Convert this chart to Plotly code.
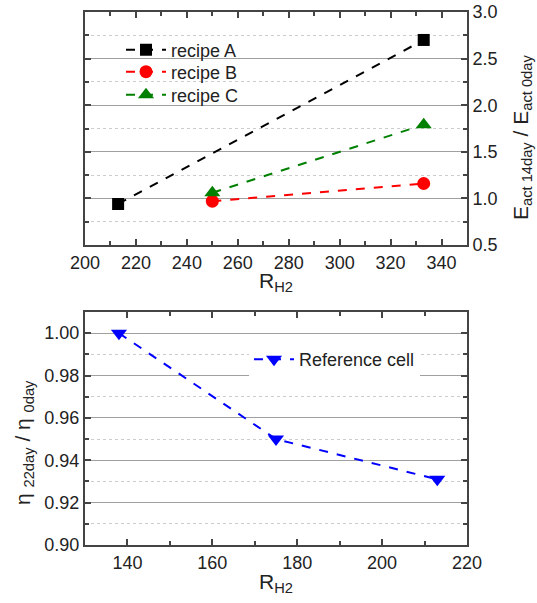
import plotly.graph_objects as go

# ---- data ----
recipes = ["recipe A", "recipe B", "recipe C"]
r_a = [213, 333]
e_a = [0.94, 2.70]
r_b = [250, 333]
e_b = [0.97, 1.16]
r_c = [250, 333]
e_c = [1.06, 1.79]

ref_name = "Reference cell"
r_ref = [138, 175, 213]
eta_ref = [1.000, 0.950, 0.931]

FONT = "Liberation Sans, Arial, sans-serif"
W, H = 537, 603

fig = go.Figure()

def add(x, y, name, color, symbol, size, xa, ya, legend):
    fig.add_trace(go.Scatter(
        x=x, y=y, name=name, mode="lines+markers",
        line=dict(color=color, width=2, dash="dash"),
        marker=dict(color=color, symbol=symbol, size=size),
        xaxis=xa, yaxis=ya, legend=legend))

add(r_a, e_a, recipes[0], "#000000", "square", 12, "x", "y", "legend")
add(r_b, e_b, recipes[1], "#ff0000", "circle", 13, "x", "y", "legend3")
add(r_c, e_c, recipes[2], "#008000", "triangle-up", 14, "x", "y", "legend4")
add(r_ref, eta_ref, ref_name, "#0000ff", "triangle-down", 14, "x2", "y2", "legend2")

x0, x1 = 85 / W, 467 / W
top_dom = [1 - 245 / H, 1 - 12 / H]
bot_dom = [1 - 545 / H, 1 - 312 / H]

axis_common = dict(
    showline=True, linecolor="#444444", linewidth=2, mirror="ticks",
    ticks="inside", ticklen=6, tickcolor="#444444", tickwidth=1.5,
    tickfont=dict(family=FONT, size=18, color="#222222"),
    zeroline=False,
)

leg_font = dict(family=FONT, size=18, color="#222222")

def top_leg(ypx):
    return dict(x=121 / W, y=1 - ypx / H, xanchor="left", yanchor="middle",
                bgcolor="rgba(0,0,0,0)", borderwidth=0, font=leg_font, itemwidth=40)

fig.update_layout(
    width=W, height=H,
    margin=dict(l=0, r=0, t=0, b=0),
    paper_bgcolor="white", plot_bgcolor="white",
    font=dict(family=FONT, color="#222222"),
    xaxis=dict(domain=[x0, x1], anchor="y", range=[200, 350], dtick=20,
               showgrid=False,
               minor=dict(dtick=10, ticks="inside", ticklen=4, tickcolor="#444444", showgrid=False),
               automargin=False, **axis_common),
    yaxis=dict(domain=top_dom, anchor="x", side="right", range=[0.5, 3.0], dtick=0.5,
               tickformat=".1f", showgrid=True, gridcolor="#a0a0a0", gridwidth=1,
               minor=dict(dtick=0.25, ticks="inside", ticklen=4, tickcolor="#444444",
                          showgrid=True, gridcolor="#cccccc", griddash="dot", gridwidth=1),
               automargin=False, **axis_common),
    xaxis2=dict(domain=[x0, x1], anchor="y2", range=[130, 220], dtick=20,
                showgrid=False,
                minor=dict(dtick=10, ticks="inside", ticklen=4, tickcolor="#444444", showgrid=False),
                automargin=False, **axis_common),
    yaxis2=dict(domain=bot_dom, anchor="x2", range=[0.90, 1.01], dtick=0.02,
                tickformat=".2f", showgrid=True, gridcolor="#a0a0a0", gridwidth=1,
                minor=dict(dtick=0.01, ticks="inside", ticklen=4, tickcolor="#444444",
                           showgrid=True, gridcolor="#cccccc", griddash="dot", gridwidth=1),
                automargin=False, **axis_common),
    legend=top_leg(50),
    legend3=top_leg(72),
    legend4=top_leg(95),
    legend2=dict(x=249 / W, y=1 - 341 / H, xanchor="left", yanchor="top",
                 bgcolor="white", borderwidth=0, font=leg_font, itemwidth=40),
    showlegend=True,
)

# white backdrop behind the top legend (covers gridlines, below traces)
fig.add_shape(type="rect", xref="paper", yref="paper",
              x0=113 / W, x1=253 / W, y0=1 - 110 / H, y1=1 - 32 / H,
              fillcolor="white", line=dict(width=0), layer="between")

anns = [
    dict(text="R<sub>H2</sub>", x=276 / W, y=1 - 282 / H, textangle=0, size=21),
    dict(text="E<sub>act 14day</sub> / E<sub>act 0day</sub>", x=522 / W, y=1 - 138 / H, textangle=-90, size=21),
    dict(text="R<sub>H2</sub>", x=276 / W, y=1 - 583 / H, textangle=0, size=21),
    dict(text="η <sub>22day</sub> / η <sub>0day</sub>", x=24 / W, y=1 - 443 / H, textangle=-90, size=21),
]
for a in anns:
    fig.add_annotation(text=a["text"], x=a["x"], y=a["y"], xref="paper", yref="paper",
                       xanchor="center", yanchor="middle", showarrow=False,
                       textangle=a["textangle"],
                       font=dict(family=FONT, size=a["size"], color="#222222"))

fig.write_html("out.html")
